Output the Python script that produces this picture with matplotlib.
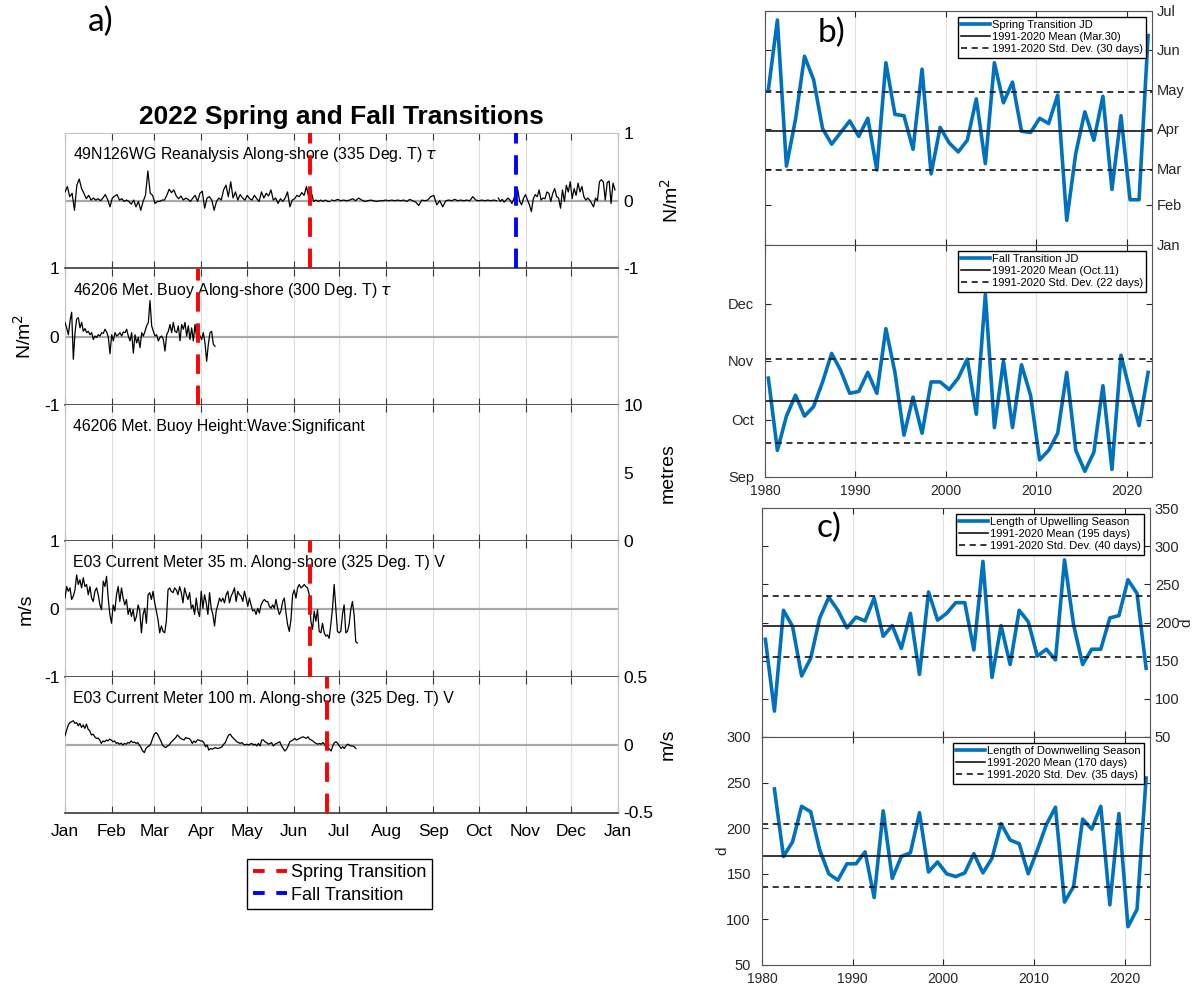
import numpy as np
import matplotlib.pyplot as plt
from matplotlib.lines import Line2D

plt.rcParams['font.family'] = ['Liberation Sans', 'DejaVu Sans']
plt.rcParams['axes.unicode_minus'] = False

W, H = 1195, 985

# ---------------- a) 2022 time series ----------------
month_labels = ['Jan', 'Feb', 'Mar', 'Apr', 'May', 'Jun', 'Jul', 'Aug', 'Sep', 'Oct', 'Nov', 'Dec', 'Jan']
month_start = [0, 31, 59, 90, 120, 151, 181, 212, 243, 273, 304, 334, 365]

tau_rean_jan_jun = [
    0.13, 0.21, 0.06, 0.11, -0.14, 0.23, 0.32, 0.18, 0.11, 0.03,
    0.08, 0.01, 0.04, 0.01, 0.03, 0.00, 0.04, 0.09, 0.02, -0.09,
    0.04, 0.07, 0.09, 0.01, 0.03, -0.01, 0.01, -0.01, -0.05, 0.01,
    -0.09, -0.01, -0.14, -0.01, 0.08, 0.44, 0.11, 0.08, -0.04, -0.01,
    -0.01, 0.01, 0.01, 0.08, 0.17, 0.12, 0.16, 0.07, 0.03, 0.07,
    0.01, 0.04, 0.02, -0.01, 0.04, 0.08, -0.01, 0.11, 0.14, -0.11,
    0.04, 0.06, 0.01, -0.14, -0.01, 0.04, 0.01, 0.16, 0.23, 0.06,
    0.28, 0.04, 0.13, 0.01, 0.09, 0.04, 0.01, 0.08, 0.03, 0.01,
    0.08, 0.03, -0.01, 0.13, 0.04, 0.11, 0.07, 0.16, 0.01, 0.04,
    -0.04, 0.03, -0.01, 0.04, 0.13, -0.09, 0.01, 0.03, 0.08, 0.06,
    0.12, 0.08, 0.21, 0.04, 0.13, -0.01, 0.01, -0.01, 0.01, -0.01,
    0.01, -0.01, -0.01]
tau_rean_jun_oct = [
    0.01, 0.00, 0.02, 0.00, 0.01, 0.00, 0.01, 0.03, 0.00, 0.04,
    0.01, -0.01, 0.00, 0.01, 0.00, -0.01, 0.00, 0.00, 0.01, 0.00,
    0.01, 0.00, 0.01, 0.00, 0.01, -0.01, 0.02, 0.00, -0.02, -0.07,
    0.01, 0.00, 0.01, 0.06, 0.08, -0.06, 0.00, -0.09, 0.00, 0.01,
    0.00, 0.02, 0.00, 0.01, 0.00, 0.01, 0.00, 0.06, 0.01, 0.00,
    0.01, 0.00, 0.01, 0.00, 0.01, 0.00]
tau_rean_oct_dec = [
    0.04, -0.01, 0.02, -0.02, 0.01, 0.04, 0.01, -0.04, 0.03, 0.13,
    0.16, -0.01, -0.06, 0.04, 0.09, 0.01, -0.06, -0.16, 0.03, 0.09,
    0.06, 0.16, 0.01, 0.04, 0.03, 0.13, 0.11, -0.01, 0.11, 0.18,
    0.06, 0.04, -0.11, 0.16, -0.01, 0.23, 0.13, 0.28, 0.03, 0.18,
    0.08, 0.26, 0.13, 0.21, 0.06, 0.01, 0.04, 0.01, -0.04, -0.09,
    0.04, 0.00, 0.28, 0.31, 0.28, 0.01, 0.27, 0.29, -0.04, 0.26,
    0.16]
rean_days = [(0, 175), (176, 285), (286, 363)]

# 46206 met buoy along-shore stress (N/m^2), days 0-99
tau_buoy = [
    0.21, 0.13, 0.03, 0.23, 0.36, -0.33, 0.06, 0.26, 0.28, 0.13,
    0.21, 0.08, 0.12, 0.06, 0.08, 0.03, 0.06, -0.04, 0.01, -0.01,
    0.03, 0.01, 0.06, 0.05, 0.11, 0.07, -0.01, -0.25, 0.03, -0.06,
    0.06, 0.01, 0.03, 0.06, 0.01, 0.07, 0.06, 0.11, 0.01, -0.06,
    0.06, -0.24, 0.03, -0.09, -0.01, -0.16, 0.06, 0.01, 0.08, 0.16,
    0.21, 0.53, 0.16, 0.08, 0.01, 0.03, -0.06, -0.01, 0.01, -0.04,
    -0.21, 0.03, 0.08, 0.18, 0.06, 0.21, 0.08, 0.06, 0.16, -0.06,
    0.18, 0.11, 0.21, 0.01, 0.16, -0.04, 0.13, -0.06, 0.18, -0.01,
    0.08, 0.01, -0.04, 0.06, -0.09, -0.36, -0.11, 0.06, 0.08, -0.11,
    -0.14]
buoy_days = (0, 99)

# E03 current meter 35 m along-shore V (m/s), days 0-193
v_35m = [
    0.16, 0.33, 0.26, 0.31, 0.14, 0.19, 0.28, 0.50, 0.36, 0.43,
    0.31, 0.46, 0.33, 0.36, 0.21, 0.33, 0.16, 0.11, 0.26, 0.31,
    0.21, 0.06, -0.01, 0.41, 0.33, 0.48, 0.16, -0.08, -0.21, 0.06,
    -0.03, 0.21, 0.33, 0.11, 0.31, 0.16, 0.06, 0.14, -0.08, 0.01,
    -0.11, -0.01, -0.18, -0.11, 0.06, -0.03, -0.35, -0.08, 0.01, -0.21,
    0.21, 0.24, 0.14, 0.26, 0.09, -0.03, -0.16, -0.35, -0.25, -0.33,
    -0.35, -0.18, 0.28, 0.31, 0.26, 0.24, 0.31, 0.28, 0.21, 0.33,
    0.24, 0.09, 0.31, 0.21, 0.14, 0.24, 0.01, 0.06, -0.08, 0.16,
    -0.03, -0.11, 0.26, 0.01, 0.21, 0.09, -0.08, 0.24, 0.01, -0.08,
    -0.25, -0.03, 0.06, 0.16, 0.11, 0.16, 0.09, 0.21, 0.26, 0.09,
    0.19, 0.24, 0.31, 0.11, 0.26, 0.21, 0.19, 0.11, 0.26, 0.16,
    0.04, 0.16, 0.06, -0.03, -0.01, -0.08, 0.01, -0.06, 0.06, 0.11,
    0.14, 0.11, 0.11, 0.04, 0.01, 0.06, 0.01, 0.14, 0.01, -0.08,
    -0.03, 0.11, 0.16, -0.06, -0.23, -0.33, -0.16, 0.21, 0.28, 0.16,
    0.31, 0.36, 0.31, 0.33, 0.36, 0.33, 0.31, 0.21, -0.18, -0.30,
    -0.03, -0.18, -0.01, -0.33, -0.35, -0.21, -0.35, -0.40, -0.38, -0.43,
    -0.23, 0.01, 0.36, 0.01, -0.33, -0.35, -0.33, -0.08, 0.06, -0.35,
    -0.33, -0.23, -0.01, 0.11, -0.08, -0.48, -0.50]
v35_days = (0, 193)

# E03 current meter 100 m along-shore V (m/s), days 0-192
v_100m = [
    0.065, 0.109, 0.146, 0.164, 0.170, 0.177, 0.158, 0.164, 0.140, 0.158,
    0.128, 0.146, 0.121, 0.152, 0.115, 0.102, 0.072, 0.078, 0.059, 0.047,
    0.049, 0.035, 0.010, 0.028, 0.022, 0.035, 0.028, 0.041, 0.035, 0.022,
    0.028, 0.010, 0.016, 0.004, 0.012, -0.002, 0.010, 0.004, 0.016, 0.012,
    0.028, 0.016, 0.020, 0.010, 0.016, -0.002, -0.021, -0.046, -0.058, -0.027,
    -0.015, -0.009, 0.010, 0.047, 0.078, 0.090, 0.078, 0.053, 0.028, -0.002,
    -0.015, -0.021, -0.009, -0.002, 0.016, 0.028, 0.041, 0.053, 0.072, 0.059,
    0.047, 0.041, 0.035, 0.053, 0.047, 0.047, 0.035, 0.010, 0.028, 0.016,
    0.035, 0.035, 0.028, 0.028, 0.016, -0.015, -0.002, -0.040, -0.027, -0.033,
    -0.027, -0.021, -0.027, -0.027, -0.021, -0.015, 0.004, 0.016, 0.047, 0.072,
    0.078, 0.059, 0.047, 0.035, 0.022, 0.016, 0.010, 0.016, 0.004, -0.002,
    0.004, -0.002, 0.004, 0.010, -0.002, 0.004, -0.009, 0.010, -0.009, 0.035,
    0.035, 0.022, 0.016, 0.004, 0.010, 0.016, -0.009, 0.004, 0.010, 0.016,
    0.022, -0.009, -0.027, -0.046, -0.033, -0.009, 0.022, 0.028, 0.035, 0.047,
    0.035, 0.041, 0.047, 0.053, 0.059, 0.053, 0.047, 0.059, 0.041, 0.035,
    0.028, 0.016, 0.010, 0.004, 0.010, 0.004, 0.016, 0.004, -0.021, -0.015,
    -0.033, -0.046, -0.009, 0.016, 0.022, 0.010, -0.009, -0.027, -0.015, -0.027,
    -0.009, 0.004, -0.002, -0.009, -0.009, -0.015, -0.027]
v100_days = (0, 192)

# 2022 transition days (day of year)
spring_day = [162, 88, None, 162, 173]
fall_day = [298, None, None, None, None]

panel_text = ['49N126WG Reanalysis Along-shore (335 Deg. T) $\\tau$',
              '46206 Met. Buoy Along-shore (300 Deg. T) $\\tau$',
              '46206 Met. Buoy Height:Wave:Significant',
              'E03 Current Meter 35 m. Along-shore (325 Deg. T) V',
              'E03 Current Meter 100 m. Along-shore (325 Deg. T) V']
panel_units = ['N/m$^2$', 'N/m$^2$', 'metres', 'm/s', 'm/s']
panel_ylim = [(-1, 1), (-1, 1), (0, 10), (-1, 1), (-0.5, 0.5)]
panel_yticks = [[-1, 0, 1], [-1, 0, 1], [0, 5, 10], [-1, 0, 1], [-0.5, 0, 0.5]]
panel_yticklabels = [['-1', '0', '1'], ['-1', '0', '1'], ['0', '5', '10'],
                     ['-1', '0', '1'], ['-0.5', '0', '0.5']]
panel_side = ['right', 'left', 'right', 'left', 'right']

# ---------------- b) / c) yearly series ----------------
years = np.arange(1980, 2023)
spring_jd = [121, 175, 62, 98, 147, 129, 91, 79, 88, 97,
             85, 99, 59, 142, 102, 101, 75, 137, 56, 92,
             80, 73, 82, 114, 64, 142, 111, 127, 89, 88,
             99, 95, 117, 20, 72, 104, 82, 116, 44, 101,
             36, 36, 163]
fall_jd = [296, 258, 276, 287, 276, 281, 294, 309, 300, 288,
           289, 299, 288, 322, 299, 266, 286, 267, 294, 294,
           290, 296, 306, 277, 340, 270, 305, 270, 303, 287,
           253, 258, 267, 299, 258, 247, 257, 292, 248, 308,
           289, 271, 299]
upwelling_len = [178, 84, 216, 195, 130, 153, 206, 233, 216, 193,
                 207, 202, 232, 182, 196, 166, 212, 132, 240, 203,
                 212, 226, 226, 164, 280, 128, 196, 145, 216, 201,
                 156, 165, 151, 282, 197, 145, 165, 165, 206, 209,
                 256, 238, 140]
years_down = np.arange(1981, 2023)
downwelling_len = [243, 169, 185, 224, 218, 176, 150, 143, 161, 161,
                   174, 124, 219, 145, 169, 173, 217, 152, 163, 150,
                   147, 151, 172, 151, 167, 205, 187, 183, 150, 176,
                   204, 223, 119, 136, 210, 199, 224, 116, 216, 92,
                   111, 255]

spring_mean, spring_std = 89, 30
fall_mean, fall_std = 284, 22
up_mean, up_std = 195, 40
down_mean, down_std = 170, 35

spring_months = ['Jan', 'Feb', 'Mar', 'Apr', 'May', 'Jun', 'Jul']
spring_month_doy = [1, 32, 60, 91, 121, 152, 182]
fall_months = ['Sep', 'Oct', 'Nov', 'Dec']
fall_month_doy = [244, 274, 305, 335]


def box(x0, y0, x1, y1):
    return [x0 / W, 1 - y1 / H, (x1 - x0) / W, (y1 - y0) / H]


fig = plt.figure(figsize=(W / 100, H / 100), dpi=100)

series = [
    [(tau_rean_jan_jun, rean_days[0]), (tau_rean_jun_oct, rean_days[1]), (tau_rean_oct_dec, rean_days[2])],
    [(tau_buoy, buoy_days)],
    [],
    [(v_35m, v35_days)],
    [(v_100m, v100_days)],
]

edges = [133, 268.5, 405, 541, 677, 812.5]
light = '#c4c4c4'
dark = '#3a3a3a'
left_axes = []
for i in range(5):
    ax = fig.add_axes(box(65, edges[i], 618, edges[i + 1]))
    left_axes.append(ax)
    ax.set_xlim(0, 365)
    ax.set_ylim(*panel_ylim[i])
    ax.set_xticks(month_start)
    ax.grid(axis='x', color='#dedede', lw=0.8)
    ax.set_axisbelow(True)
    ax.tick_params(axis='x', direction='in', length=5, top=True, color=dark,
                   labelbottom=(i == 4), labelsize=12.5, pad=8)
    if i == 4:
        ax.set_xticklabels(month_labels)
    for s in ['left', 'right', 'top']:
        ax.spines[s].set_color(light)
    ax.spines['bottom'].set_color(dark)
    ax.spines['bottom'].set_linewidth(1.2)
    if i > 0:
        ax.spines['top'].set_visible(False)

    ax.set_yticks(panel_yticks[i])
    ax.set_yticklabels(panel_yticklabels[i])
    side = panel_side[i]
    ax.yaxis.set_ticks_position(side)
    ax.yaxis.set_label_position(side)
    ax.tick_params(axis='y', length=0, labelsize=12.5, pad=4)
    ax.set_ylabel(panel_units[i], fontsize=14)
    ax.yaxis.set_label_coords(1.075 if side == 'right' else -0.055, 0.5)

    if i != 2:
        ax.axhline(0, color='#a8a8a8', lw=1.6, zorder=1)
    for vals, (d0, d1) in series[i]:
        ax.plot(np.linspace(d0, d1, len(vals)), vals, color='black', lw=0.9, zorder=3)
    if spring_day[i] is not None:
        ax.axvline(spring_day[i], color='red', lw=2.8, dashes=(5, 3), zorder=4)
    if fall_day[i] is not None:
        ax.axvline(fall_day[i], color='blue', lw=2.8, dashes=(5, 3), zorder=4)

    ax.text(0.015, 0.84, panel_text[i], transform=ax.transAxes, fontsize=11.4,
            va='center', ha='left')

fig.text(341.5 / W, 1 - 117 / H, '2022 Spring and Fall Transitions',
         fontsize=19, fontweight='bold', ha='center', va='center')

trans_handles = [Line2D([], [], color='red', lw=2.8, dashes=(3, 3)),
                 Line2D([], [], color='blue', lw=2.8, dashes=(3, 3))]
fig.legend(trans_handles, ['Spring Transition', 'Fall Transition'], loc='center',
           bbox_to_anchor=(339.5 / W, 1 - 884 / H), fontsize=13, frameon=True,
           fancybox=False, edgecolor='black', framealpha=1, handlelength=1.9,
           handletextpad=0.2, borderpad=0.3, labelspacing=0.3)

# ---------------- right-hand panels ----------------
blue = '#0072BD'


def yearly_panel(rect, x, y, mean, std, ylim, label):
    ax = fig.add_axes(rect)
    # points sit a little past the year tick in the original
    ax.plot(x + 0.37, y, color=blue, lw=2.6, label=label[0])
    ax.axhline(mean, color='black', lw=1.1, label=label[1])
    ax.axhline(mean + std, color='black', lw=1.1, dashes=(4, 3), label=label[2])
    ax.axhline(mean - std, color='black', lw=1.1, dashes=(4, 3))
    ax.set_xlim(1980, 2022.8)
    ax.set_ylim(*ylim)
    ax.set_xticks([1980, 1990, 2000, 2010, 2020])
    ax.grid(axis='x', color='#e2e2e2', lw=0.8)
    ax.set_axisbelow(True)
    ax.tick_params(direction='in', length=4, left=True, right=True, top=True,
                   labelsize=10.5, colors='#262626', labelbottom=False)
    ax.tick_params(axis='x', pad=5, labelsize=10)
    for s in ax.spines.values():
        s.set_color('#555555')
        s.set_linewidth(0.8)
    ax.legend(loc='upper right', fontsize=8, fancybox=False, edgecolor='black',
              framealpha=1, handlelength=2.6, handletextpad=0.2, borderpad=0.3,
              labelspacing=0.2, borderaxespad=0.5)
    return ax


bt = yearly_panel(box(765, 11, 1152, 245), years, spring_jd, spring_mean, spring_std, (1, 182),
                  ['Spring Transition JD', '1991-2020 Mean (Mar.30)', '1991-2020 Std. Dev. (30 days)'])
bt.set_yticks(spring_month_doy)
bt.set_yticklabels(spring_months)
bt.tick_params(axis='y', labelleft=False, labelright=True)

bb = yearly_panel(box(765, 245, 1152, 477), years, fall_jd, fall_mean, fall_std, (244, 366),
                  ['Fall Transition JD', '1991-2020 Mean (Oct.11)', '1991-2020 Std. Dev. (22 days)'])
bb.set_yticks(fall_month_doy)
bb.set_yticklabels(fall_months)
bb.tick_params(axis='x', labelbottom=True)
bb.tick_params(axis='y', pad=8)

ct = yearly_panel(box(762, 508, 1150, 737), years, upwelling_len, up_mean, up_std, (50, 350),
                  ['Length of Upwelling Season', '1991-2020 Mean (195 days)', '1991-2020 Std. Dev. (40 days)'])
ct.set_yticks(np.arange(50, 351, 50))
ct.tick_params(axis='y', labelleft=False, labelright=True)
ct.yaxis.set_label_position('right')
ct.set_ylabel('d', fontsize=11, color='#262626')
ct.yaxis.set_label_coords(1.075, 0.5)

cb = yearly_panel(box(762, 737, 1150, 965), years_down, downwelling_len, down_mean, down_std, (50, 300),
                  ['Length of Downwelling Season', '1991-2020 Mean (170 days)', '1991-2020 Std. Dev. (35 days)'])
cb.set_yticks(np.arange(50, 301, 50))
cb.tick_params(axis='x', labelbottom=True)
cb.tick_params(axis='y', pad=8)
cb.set_ylabel('d', fontsize=11, color='#262626')
cb.yaxis.set_label_coords(-0.085, 0.5)

for txt, (x, y) in zip(['a)', 'b)', 'c)'], [(101, 22), (832, 33), (829, 528)]):
    fig.text(x / W, 1 - y / H, txt, fontsize=24, family=['Lato', 'DejaVu Sans'],
             ha='center', va='center')

fig.savefig('out.png', dpi=100, facecolor='white')
